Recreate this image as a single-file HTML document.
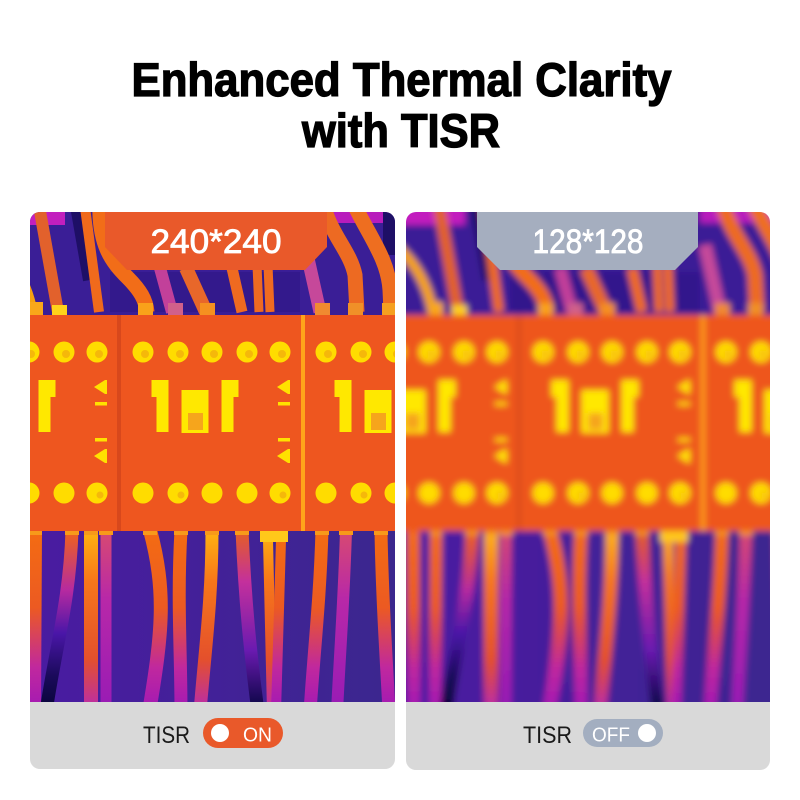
<!DOCTYPE html>
<html>
<head>
<meta charset="utf-8">
<style>
html,body{margin:0;padding:0;background:#fff;}
svg{display:block;}
</style>
</head>
<body>
<svg width="800" height="800" viewBox="0 0 800 800" xmlns="http://www.w3.org/2000/svg">
<defs>
  <clipPath id="cL"><rect x="30" y="212" width="365" height="557" rx="10"/></clipPath>
  <clipPath id="cR"><rect x="406" y="212" width="364" height="558" rx="10"/></clipPath>
  <filter id="bl" x="-5%" y="-5%" width="110%" height="110%"><feGaussianBlur stdDeviation="3.2"/></filter>
  <linearGradient id="lowbg" gradientUnits="userSpaceOnUse" x1="0" y1="0" x2="400" y2="0">
    <stop offset="0" stop-color="#4b1aa3"/><stop offset="1" stop-color="#3b278e"/>
  </linearGradient>
  <linearGradient id="gA" gradientUnits="userSpaceOnUse" x1="0" y1="530" x2="0" y2="702">
    <stop offset="0" stop-color="#f46c12"/><stop offset=".45" stop-color="#ec5a22"/><stop offset=".8" stop-color="#c0289e"/><stop offset="1" stop-color="#a81cb0"/>
  </linearGradient>
  <linearGradient id="gB" gradientUnits="userSpaceOnUse" x1="0" y1="530" x2="0" y2="702">
    <stop offset="0" stop-color="#f06418"/><stop offset=".35" stop-color="#b62aa0"/><stop offset=".6" stop-color="#4a16a8"/><stop offset=".85" stop-color="#1a0a5a"/><stop offset="1" stop-color="#0c0640"/>
  </linearGradient>
  <linearGradient id="gC" gradientUnits="userSpaceOnUse" x1="0" y1="530" x2="0" y2="702">
    <stop offset="0" stop-color="#ffb410"/><stop offset=".3" stop-color="#f7761a"/><stop offset=".75" stop-color="#e4502c"/><stop offset="1" stop-color="#c0309a"/>
  </linearGradient>
  <linearGradient id="gM" gradientUnits="userSpaceOnUse" x1="0" y1="530" x2="0" y2="702">
    <stop offset="0" stop-color="#d84a70"/><stop offset=".4" stop-color="#b828a8"/><stop offset="1" stop-color="#9a1cb4"/>
  </linearGradient>
  <linearGradient id="gD" gradientUnits="userSpaceOnUse" x1="0" y1="530" x2="0" y2="702">
    <stop offset="0" stop-color="#e56020"/><stop offset=".3" stop-color="#c4309c"/><stop offset=".7" stop-color="#6a1ab0"/><stop offset="1" stop-color="#140850"/>
  </linearGradient>

  <g id="mod">
    <g fill="#ffdc00">
      <circle cx="143" cy="352" r="10.5"/><circle cx="178" cy="352" r="10.5"/><circle cx="212" cy="352" r="10.5"/><circle cx="247" cy="352" r="10.5"/><circle cx="280" cy="352" r="10.5"/>
      <circle cx="143" cy="493" r="10.5"/><circle cx="178" cy="493" r="10.5"/><circle cx="212" cy="493" r="10.5"/><circle cx="247" cy="493" r="10.5"/><circle cx="280" cy="493" r="10.5"/>
    </g>
    <g fill="#f5b80a">
      <circle cx="145" cy="354" r="4"/><circle cx="180" cy="354" r="4"/><circle cx="214" cy="354" r="4"/><circle cx="249" cy="354" r="4"/><circle cx="282" cy="354" r="4"/>
      <circle cx="181" cy="495" r="3.5"/><circle cx="283" cy="495" r="3.5"/>
    </g>
    <path d="M151.5,380 H168.5 V432 H156.5 V397 H151.5 Z" fill="#ffe800"/>
    <rect x="181.5" y="390" width="27" height="43" fill="#ffe800"/>
    <rect x="188" y="413" width="15" height="17" fill="#f6a51c"/>
    <path d="M221.5,380 H238.5 V397 H233.5 V432 H221.5 Z" fill="#ffe800"/>
    <g fill="#ffe100">
      <polygon points="277,387 288,380 290,380 290,394 288,394"/>
      <rect x="278" y="402" width="12" height="3.5"/>
      <rect x="278" y="438" width="12" height="3.5"/>
      <polygon points="277,456 288,449 290,449 290,463 288,463"/>
    </g>
  </g>

  <g id="scene">
    <rect x="-10" y="195" width="420" height="125" fill="#3a1e96"/>
    <rect x="-10" y="195" width="75" height="30" fill="#c21fbe"/>
    <rect x="300" y="195" width="90" height="28" fill="#b81cbc"/>
    <rect x="383" y="195" width="27" height="60" fill="#1e0f66"/>
    <path d="M76,200 L90,280" stroke="#1e0f66" stroke-width="14" fill="none"/>
    <rect x="110" y="272" width="190" height="40" fill="#33198c"/>
    <g fill="none" stroke-linecap="butt">
      <path d="M-5,245 C15,262 28,285 33,314" stroke="#f6a20f" stroke-width="10"/>
      <path d="M38,200 L58,312" stroke="#e2612c" stroke-width="12"/>
      <path d="M84,200 L99,312" stroke="#f06a1c" stroke-width="10"/>
      <path d="M100,200 C98,245 112,262 128,278 C140,290 146,300 147,312" stroke="#f26d18" stroke-width="15"/>
      <path d="M160,268 L172,312" stroke="#c2409a" stroke-width="12"/>
      <path d="M186,268 L206,312" stroke="#e8672a" stroke-width="14"/>
      <path d="M232,268 L242,312" stroke="#ef6a20" stroke-width="11"/>
      <path d="M257,265 L259,312" stroke="#ee6a22" stroke-width="9"/>
      <path d="M268,265 L270,312" stroke="#f06b20" stroke-width="9"/>
      <path d="M305,245 L320,312" stroke="#c6489a" stroke-width="13"/>
      <path d="M322,200 C330,235 350,250 355,275 L357,312" stroke="#ed6a22" stroke-width="15"/>
      <path d="M352,200 C368,235 388,258 390,290 L391,312" stroke="#ee6e20" stroke-width="15"/>
    </g>
    <g>
      <rect x="30" y="302" width="13" height="13" fill="#f9a81a"/>
      <rect x="52" y="305" width="15" height="10" fill="#ffd21a"/>
      <rect x="138" y="303" width="15" height="12" fill="#f9a21a"/>
      <rect x="168" y="303" width="15" height="12" fill="#d0608a"/>
      <rect x="200" y="303" width="15" height="12" fill="#f59020"/>
      <rect x="315" y="303" width="15" height="12" fill="#f08a30"/>
      <rect x="348" y="303" width="15" height="12" fill="#f09028"/>
      <rect x="382" y="303" width="14" height="12" fill="#f5a020"/>
    </g>
    <rect x="-10" y="525" width="420" height="190" fill="url(#lowbg)"/>
    <g fill="none">
      <path d="M13,530 L14,712" stroke="url(#gA)" stroke-width="13"/>
      <path d="M36,530 L35,712" stroke="url(#gA)" stroke-width="12"/>
      <path d="M72,530 C70,600 55,650 46,712" stroke="url(#gB)" stroke-width="13"/>
      <path d="M91,530 L91,712" stroke="url(#gC)" stroke-width="14"/>
      <path d="M106,530 L106,712" stroke="url(#gM)" stroke-width="11"/>
      <path d="M150,530 C166,590 163,630 149,712" stroke="url(#gA)" stroke-width="14"/>
      <path d="M181,530 C177,600 181,650 181,712" stroke="url(#gA)" stroke-width="13"/>
      <path d="M212,530 C212,600 205,650 200,712" stroke="url(#gC)" stroke-width="13"/>
      <path d="M242,530 C245,600 250,650 258,712" stroke="url(#gD)" stroke-width="13"/>
      <path d="M268,540 L272,712" stroke="url(#gC)" stroke-width="10"/>
      <path d="M281,540 L276,712" stroke="url(#gA)" stroke-width="10"/>
      <path d="M322,530 C320,600 314,650 310,712" stroke="url(#gA)" stroke-width="13"/>
      <path d="M346,530 C344,600 340,650 337,712" stroke="url(#gM)" stroke-width="12"/>
      <path d="M381,530 C382,600 386,650 389,712" stroke="url(#gA)" stroke-width="13"/>
    </g>
    <g fill="#f79a1a">
      <rect x="30" y="529" width="12" height="6"/>
      <rect x="65" y="529" width="14" height="6"/>
      <rect x="84" y="529" width="14" height="6"/>
      <rect x="99" y="529" width="14" height="6"/>
      <rect x="143" y="529" width="14" height="6"/>
      <rect x="174" y="529" width="14" height="6"/>
      <rect x="205" y="529" width="14" height="6"/>
      <rect x="235" y="529" width="14" height="6"/>
      <rect x="315" y="529" width="14" height="6"/>
      <rect x="339" y="529" width="14" height="6"/>
      <rect x="374" y="529" width="14" height="6"/>
    </g>
    <rect x="260" y="529" width="28" height="13" fill="#ffc81a"/>
    <rect x="-10" y="315" width="420" height="216" fill="#ee561f"/>
    <rect x="117" y="315" width="4" height="216" fill="#d8481c"/>
    <rect x="301" y="315" width="4" height="216" fill="#ffa41a"/>
    <rect x="-66" y="315" width="4" height="216" fill="#d8481c"/>
    <use href="#mod" transform="translate(-183,0)"/>
    <use href="#mod"/>
    <use href="#mod" transform="translate(183,0)"/>
  </g>
</defs>

<rect width="800" height="800" fill="#ffffff"/>

<text x="131.5" y="96" font-family="Liberation Sans, sans-serif" font-weight="bold" font-size="47" fill="#000" stroke="#000" stroke-width="1.3" textLength="540" lengthAdjust="spacingAndGlyphs">Enhanced Thermal Clarity</text>
<text x="401" y="147" text-anchor="middle" font-family="Liberation Sans, sans-serif" font-weight="bold" font-size="47" fill="#000" stroke="#000" stroke-width="1.3" textLength="198" lengthAdjust="spacingAndGlyphs">with TISR</text>

<g clip-path="url(#cL)">
  <use href="#scene"/>
  <rect x="20" y="702" width="390" height="80" fill="#d9d9d9"/>
</g>
<path d="M105,212 H327 V247 L305,270 H127 L105,247 Z" fill="#e9592a"/>
<text x="216" y="253" text-anchor="middle" font-family="Liberation Sans, sans-serif" font-size="34" fill="#fff" stroke="#fff" stroke-width="0.8" textLength="131" lengthAdjust="spacingAndGlyphs">240*240</text>

<text x="143" y="743" font-family="Liberation Sans, sans-serif" font-size="24" fill="#1a1a1a" textLength="47" lengthAdjust="spacingAndGlyphs">TISR</text>
<rect x="203" y="718" width="80" height="30" rx="15" fill="#e9592a"/>
<circle cx="220" cy="733" r="9" fill="#fff"/>
<text x="243" y="741.5" font-family="Liberation Sans, sans-serif" font-size="20.5" fill="#fff" textLength="29" lengthAdjust="spacingAndGlyphs">ON</text>

<g clip-path="url(#cR)">
  <g filter="url(#bl)">
    <use href="#scene" transform="translate(400,0)"/>
  </g>
  <rect x="396" y="702" width="390" height="80" fill="#d9d9d9"/>
</g>
<path d="M477,212 H698 V247 L675,270 H500 L477,247 Z" fill="#a5aebf"/>
<text x="588" y="253" text-anchor="middle" font-family="Liberation Sans, sans-serif" font-size="34" fill="#fff" stroke="#fff" stroke-width="0.8" textLength="111" lengthAdjust="spacingAndGlyphs">128*128</text>

<text x="523" y="743" font-family="Liberation Sans, sans-serif" font-size="24" fill="#1a1a1a" textLength="49" lengthAdjust="spacingAndGlyphs">TISR</text>
<rect x="583" y="719" width="80" height="28" rx="14" fill="#a3aec0"/>
<text x="592" y="741.5" font-family="Liberation Sans, sans-serif" font-size="20.5" fill="#fff" textLength="38" lengthAdjust="spacingAndGlyphs">OFF</text>
<circle cx="647" cy="733" r="9" fill="#fff"/>
</svg>
</body>
</html>
